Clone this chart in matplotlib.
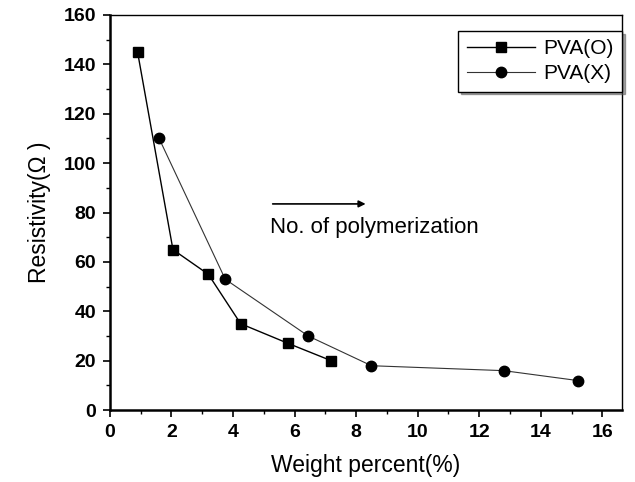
import matplotlib
matplotlib.use("Agg")
import matplotlib.pyplot as plt
from matplotlib.ticker import MultipleLocator

plt.rcParams['font.family'] = ['Liberation Sans', 'DejaVu Sans']

# Data
pva_o_x = [0.9, 2.05, 3.2, 4.25, 5.8, 7.2]
pva_o_y = [145, 65, 55, 35, 27, 20]
pva_x_x = [1.6, 3.75, 6.45, 8.5, 12.8, 15.2]
pva_x_y = [110, 53, 30, 18, 16, 12]
labels = ["PVA(O)", "PVA(X)"]

fig = plt.figure(figsize=(6.35, 4.82), dpi=100)
ax = fig.add_axes([0.173, 0.149, 0.807, 0.82])

ax.plot(pva_o_x, pva_o_y, color='black', lw=1.0, marker='s', ms=7.5, label=labels[0])
ax.plot(pva_x_x, pva_x_y, color='#333333', lw=0.8, marker='o', ms=7.5,
        markerfacecolor='black', markeredgecolor='black', label=labels[1])

ax.set_xlim(0, 16.65)
ax.set_ylim(0, 160)
ax.xaxis.set_major_locator(MultipleLocator(2))
ax.xaxis.set_minor_locator(MultipleLocator(1))
ax.yaxis.set_major_locator(MultipleLocator(20))
ax.yaxis.set_minor_locator(MultipleLocator(10))
ax.tick_params(which='major', direction='out', length=5, width=1.2, labelsize=14, pad=5)
ax.tick_params(which='minor', direction='out', length=3, width=1.0)
for lab in ax.get_xticklabels() + ax.get_yticklabels():
    lab.set_fontweight('bold')
for s in ['left', 'bottom']:
    ax.spines[s].set_linewidth(1.8)
for s in ['top', 'right']:
    ax.spines[s].set_linewidth(1.0)

ax.set_xlabel("Weight percent(%)", fontsize=16.5, labelpad=9)
ax.set_ylabel("Resistivity(Ω )", fontsize=16.5, labelpad=9)

ax.annotate("", xy=(8.4, 83.5), xytext=(5.2, 83.5),
            arrowprops=dict(arrowstyle='-|>', color='black', lw=1.2, mutation_scale=10))
ax.text(5.2, 74, "No. of polymerization", fontsize=16, va='center', ha='left')

leg = ax.legend(loc='upper right', fontsize=15, frameon=True, fancybox=False,
                shadow=True, edgecolor='black', borderpad=0.4, handlelength=3.3,
                handletextpad=0.4, labelspacing=0.3, borderaxespad=0,
                bbox_to_anchor=(1.0, 0.96))
leg.get_frame().set_linewidth(1.0)

fig.savefig("out.png", dpi=100)
